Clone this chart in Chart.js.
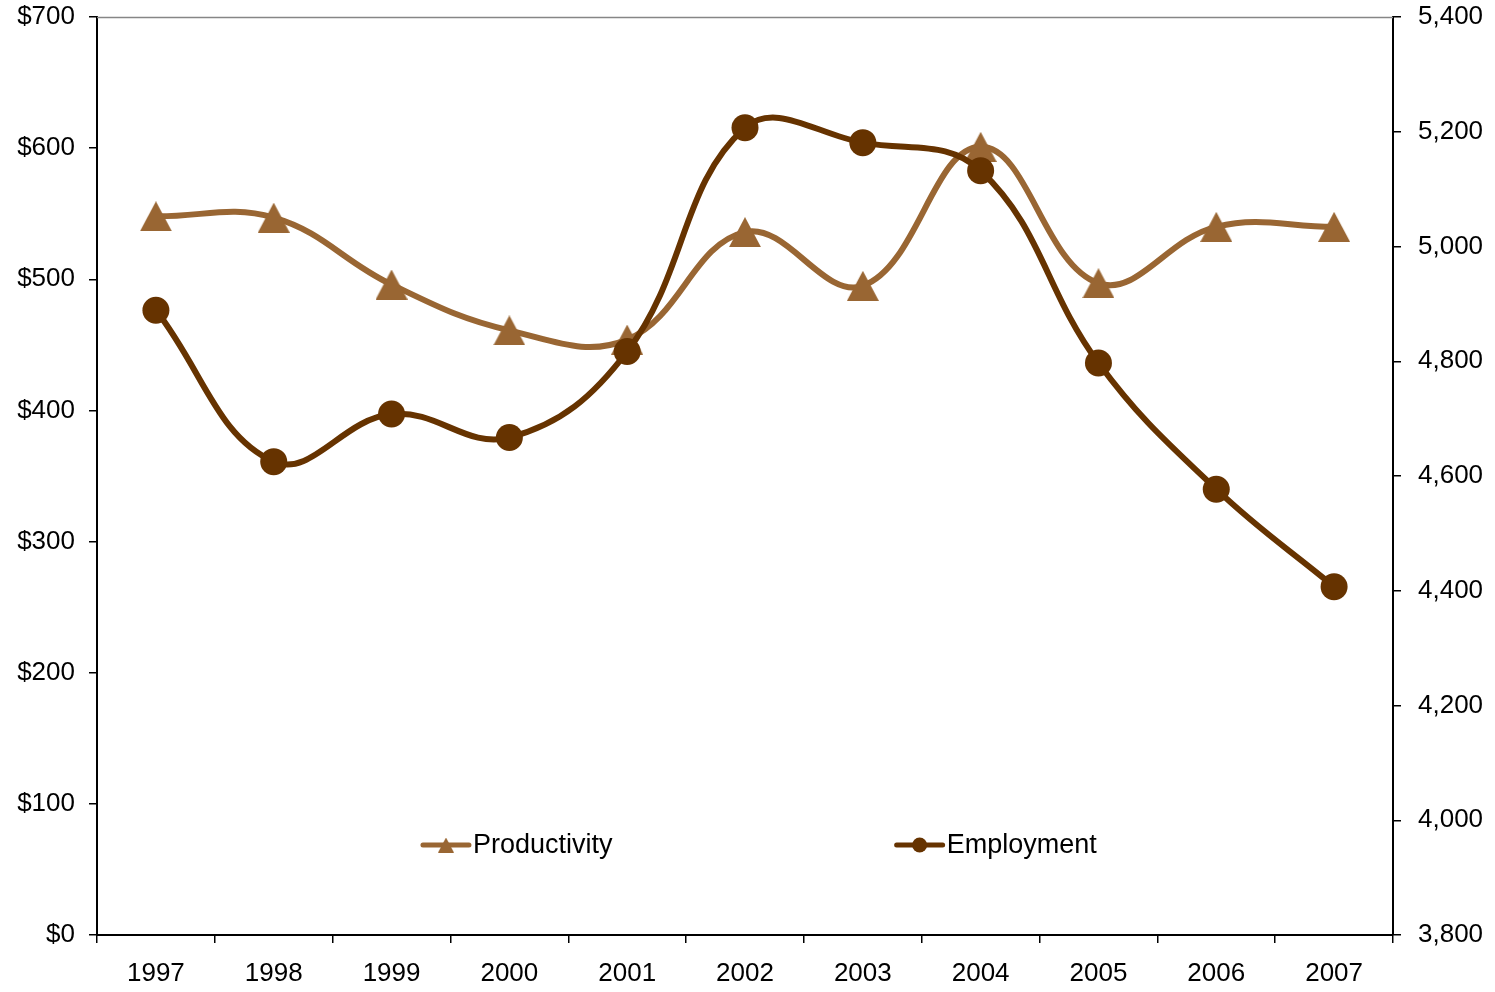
<!DOCTYPE html>
<html>
<head>
<meta charset="utf-8">
<script src="https://cdn.jsdelivr.net/npm/chart.js@4"></script>
<style>
  html, body { margin: 0; padding: 0; background: #ffffff; }
  canvas { display: block; }
</style>
</head>
<body>
<canvas id="chart" width="1495" height="992"></canvas>
<script>
// Years on the category axis
const years = ['1997', '1998', '1999', '2000', '2001', '2002', '2003', '2004', '2005', '2006', '2007'];
// Productivity in dollars (left axis)
const productivity = [548, 547, 496, 461, 454, 536, 495, 601, 497, 540, 540];
// Employment headcount (right axis)
const employment = [4889, 4625, 4708, 4667, 4817, 5207, 5181, 5132, 4797, 4577, 4407];
// Axis ranges and steps
const leftAxisRange = [0, 700, 100];
const rightAxisRange = [3800, 5400, 200];

const PROD_COLOR = '#996633';
const EMP_COLOR = '#663300';
const FONT = "'Liberation Sans', Arial, sans-serif";

// Triangle marker drawn on its own canvas so it sits centred on the point
function triangleMarker(w, h, color) {
  const c = document.createElement('canvas');
  c.width = w; c.height = h;
  const g = c.getContext('2d');
  g.fillStyle = color;
  g.beginPath();
  g.moveTo(w / 2, 0);
  g.lineTo(w, h);
  g.lineTo(0, h);
  g.closePath();
  g.fill();
  return c;
}
const bigTriangle = triangleMarker(32, 30, PROD_COLOR);
const smallTriangle = triangleMarker(16, 15, PROD_COLOR);

// Thin grey border along the top of the plot area
const topBorder = {
  id: 'topBorder',
  beforeDatasetsDraw(chart) {
    const { ctx, chartArea } = chart;
    ctx.save();
    ctx.strokeStyle = '#868686';
    ctx.lineWidth = 1.5;
    ctx.beginPath();
    ctx.moveTo(chartArea.left, chartArea.top + 0.5);
    ctx.lineTo(chartArea.right, chartArea.top + 0.5);
    ctx.stroke();
    ctx.restore();
  }
};

// Legend placed inside the plot area, near the bottom
const innerLegend = {
  id: 'innerLegend',
  afterDatasetsDraw(chart) {
    const { ctx, chartArea } = chart;
    const w = chartArea.right - chartArea.left;
    const h = chartArea.bottom - chartArea.top;
    const y = chartArea.top + h * 0.902;
    const slots = [0.2515, 0.617];
    ctx.save();
    chart.data.datasets.forEach((ds, i) => {
      const x0 = chartArea.left + w * slots[i];
      const lineLen = 46;
      ctx.strokeStyle = ds.borderColor;
      ctx.lineWidth = 5;
      ctx.lineCap = 'round';
      ctx.beginPath();
      ctx.moveTo(x0, y);
      ctx.lineTo(x0 + lineLen, y);
      ctx.stroke();
      const cx = x0 + lineLen / 2;
      if (ds.legendMarker === 'triangle') {
        ctx.drawImage(smallTriangle, cx - 8, y - 7.5);
      } else {
        ctx.fillStyle = ds.borderColor;
        ctx.beginPath();
        ctx.arc(cx, y, 7.5, 0, Math.PI * 2);
        ctx.fill();
      }
      ctx.fillStyle = '#000000';
      ctx.font = '27px ' + FONT;
      ctx.textBaseline = 'middle';
      ctx.textAlign = 'left';
      ctx.fillText(ds.label, x0 + lineLen + 4, y + 1);
    });
    ctx.restore();
  }
};

// Value axes: fixed width, no extra room reserved above or below for labels
function fitValueAxis(width) {
  return (scale) => {
    scale.width = width;
    scale.paddingTop = 0;
    scale.paddingBottom = 0;
  };
}

const axisTickColor = '#000000';

new Chart(document.getElementById('chart'), {
  type: 'line',
  data: {
    labels: years,
    datasets: [
      {
        label: 'Productivity',
        data: productivity,
        yAxisID: 'yLeft',
        borderColor: PROD_COLOR,
        backgroundColor: PROD_COLOR,
        borderWidth: 6,
        tension: 0.4,
        pointStyle: bigTriangle,
        pointRadius: 16,
        pointHoverRadius: 16,
        legendMarker: 'triangle',
        order: 2,
        clip: false
      },
      {
        label: 'Employment',
        data: employment,
        yAxisID: 'yRight',
        borderColor: EMP_COLOR,
        backgroundColor: EMP_COLOR,
        borderWidth: 6,
        tension: 0.4,
        pointStyle: 'circle',
        pointRadius: 13.5,
        pointHoverRadius: 13.5,
        pointBorderWidth: 0,
        legendMarker: 'circle',
        order: 1,
        clip: false
      }
    ]
  },
  options: {
    responsive: false,
    animation: false,
    events: [],
    layout: { autoPadding: false, padding: { top: 17, left: 0, right: 0, bottom: 0 } },
    plugins: {
      legend: { display: false },
      tooltip: { enabled: false }
    },
    scales: {
      x: {
        offset: true,
        afterFit(scale) { scale.height = 57; },
        border: { color: '#000000', width: 2 },
        grid: {
          offset: true,
          drawOnChartArea: false,
          drawTicks: true,
          tickLength: 8,
          color: axisTickColor,
          lineWidth: 1.5
        },
        ticks: {
          color: '#000000',
          font: { family: FONT, size: 26 },
          padding: 15,
          maxRotation: 0,
          autoSkip: false
        }
      },
      yLeft: {
        position: 'left',
        min: leftAxisRange[0],
        max: leftAxisRange[1],
        afterFit: fitValueAxis(97),
        border: { color: '#000000', width: 2 },
        grid: {
          drawOnChartArea: false,
          drawTicks: true,
          tickLength: 8,
          color: axisTickColor,
          lineWidth: 1.5
        },
        ticks: {
          stepSize: leftAxisRange[2],
          color: '#000000',
          font: { family: FONT, size: 26 },
          padding: 14,
          callback: (v) => '$' + v
        }
      },
      yRight: {
        position: 'right',
        min: rightAxisRange[0],
        max: rightAxisRange[1],
        afterFit: fitValueAxis(102),
        border: { color: '#000000', width: 2 },
        grid: {
          drawOnChartArea: false,
          drawTicks: true,
          tickLength: 8,
          color: axisTickColor,
          lineWidth: 1.5
        },
        ticks: {
          stepSize: rightAxisRange[2],
          color: '#000000',
          font: { family: FONT, size: 26 },
          padding: 17,
          callback: (v) => v.toLocaleString('en-US')
        }
      }
    }
  },
  plugins: [topBorder, innerLegend]
});
</script>
</body>
</html>
